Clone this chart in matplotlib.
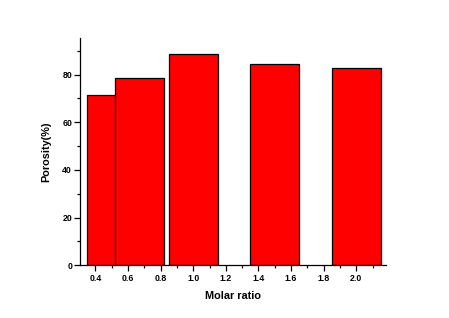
import matplotlib
matplotlib.use("Agg")
import matplotlib.pyplot as plt
from matplotlib.ticker import MultipleLocator

# molar ratios and porosity values
ratios = [0.5, 0.67, 1.0, 1.5, 2.0]
porosity = [71.4, 78.5, 88.6, 84.5, 82.8]

plt.rcParams['font.family'] = ['Liberation Sans', 'DejaVu Sans']
plt.rcParams['font.weight'] = 'bold'

fig = plt.figure(figsize=(4.49, 3.18), dpi=100)
ax = fig.add_axes([0.179, 0.166, 0.681, 0.714])

ax.bar(ratios, porosity, width=0.3, color='#ff0000', edgecolor='black', linewidth=0.9)

ax.set_xlim(0.308, 2.183)
ax.set_ylim(0, 95.3)
ax.xaxis.set_minor_locator(MultipleLocator(0.1))
ax.yaxis.set_major_locator(MultipleLocator(20))
ax.yaxis.set_minor_locator(MultipleLocator(10))
ax.set_xticks([0.4, 0.6, 0.8, 1.0, 1.2, 1.4, 1.6, 1.8, 2.0])
ax.set_xticklabels(['0.4', '0.6', '0.8', '1.0', '1.2', '1.4', '1.6', '1.8', '2.0'])

for s in ['top', 'right']:
    ax.spines[s].set_visible(False)
for s in ['left', 'bottom']:
    ax.spines[s].set_linewidth(0.9)

ax.tick_params(which='major', direction='out', length=4, width=0.9, labelsize=6.3, pad=2)
ax.tick_params(which='minor', direction='out', length=2.5, width=0.9)
for lab in ax.get_xticklabels() + ax.get_yticklabels():
    lab.set_fontweight('bold')

ax.set_xlabel('Molar ratio', fontsize=7.8, fontweight='bold', labelpad=6)
ax.set_ylabel('Porosity(%)', fontsize=7.8, fontweight='bold', labelpad=8)

fig.savefig('out.png', dpi=100)
